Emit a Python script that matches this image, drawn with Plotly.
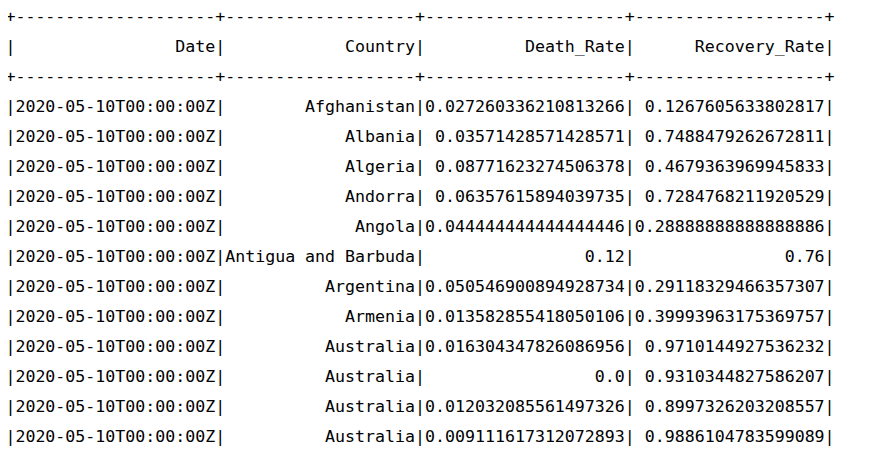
import plotly.graph_objects as go

# spark-style df.show() output, first 12 rows
columns = ["Date", "Country", "Death_Rate", "Recovery_Rate"]
dates = ["2020-05-10T00:00:00Z"] * 12
countries = ["Afghanistan", "Albania", "Algeria", "Andorra", "Angola",
             "Antigua and Barbuda", "Argentina", "Armenia", "Australia",
             "Australia", "Australia", "Australia"]
# kept as printed by spark (java double formatting)
death_rate = ["0.027260336210813266", "0.03571428571428571", "0.08771623274506378",
              "0.06357615894039735", "0.044444444444444446", "0.12",
              "0.050546900894928734", "0.013582855418050106", "0.016304347826086956",
              "0.0", "0.012032085561497326", "0.009111617312072893"]
recovery_rate = ["0.1267605633802817", "0.7488479262672811", "0.4679363969945833",
                 "0.7284768211920529", "0.28888888888888886", "0.76",
                 "0.29118329466357307", "0.39993963175369757", "0.9710144927536232",
                 "0.9310344827586207", "0.8997326203208557", "0.9886104783599089"]


def build_lines():
    rows = [list(r) for r in zip(dates, countries, death_rate, recovery_rate)]
    widths = [max(len(columns[i]), *(len(r[i]) for r in rows)) for i in range(len(columns))]
    sep = "+" + "+".join("-" * w for w in widths) + "+"

    def fmt(cells):
        return "|" + "|".join(c.rjust(w) for c, w in zip(cells, widths)) + "|"

    lines = [sep, fmt(columns), sep] + [fmt(r) for r in rows]
    # nbsp so svg keeps the padding
    return [ln.replace(" ", "\u00a0") for ln in lines]


lines = build_lines()
line_px = 30
top_px = 10
center_px = 412  # horizontal middle of the printed block
fig = go.Figure(
    go.Scatter(
        x=[0] * len(lines),
        y=list(range(len(lines))),
        text=lines,
        mode="text",
        textposition="middle center",
        textfont=dict(family="DejaVu Sans Mono", size=16.6, color="#000000"),
        cliponaxis=False,
        hoverinfo="skip",
        showlegend=False
    )
)
fig.update_xaxes(range=[-center_px, 875 - center_px], visible=False, fixedrange=True)
fig.update_yaxes(range=[(452 - top_px) / line_px, -top_px / line_px], visible=False, fixedrange=True)
fig.update_layout(
    width=875,
    height=452,
    margin=dict(l=0, r=0, t=0, b=0),
    paper_bgcolor="white",
    plot_bgcolor="white"
)
fig.write_html("out.html")
